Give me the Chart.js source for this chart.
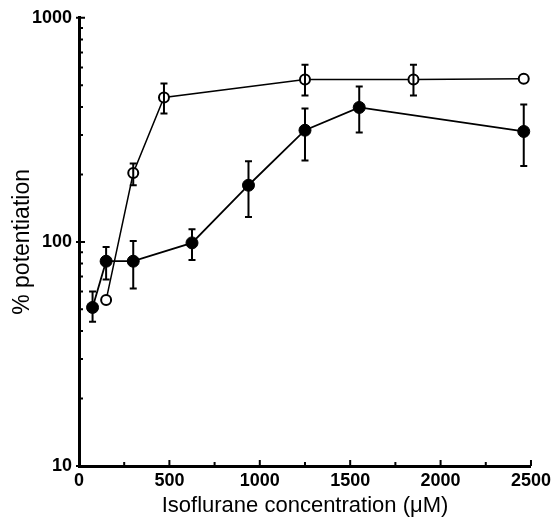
<!DOCTYPE html>
<html>
<head>
<meta charset="utf-8">
<script src="https://cdn.jsdelivr.net/npm/chart.js@4.4.0/dist/chart.umd.min.js"></script>
<style>
  html, body { margin: 0; padding: 0; background: #fff; }
  #wrap { width: 555px; height: 528px; }
</style>
</head>
<body>
<div id="wrap"><canvas id="graphe"></canvas></div>
<script>
// données
const concFilled = [75, 150, 300, 625, 937.5, 1250, 1550, 2460];
const potFilled  = [51, 82, 82, 99, 179, 315, 398, 311];
const errHiFilled = [60, 95, 101, 114, 229, 394, 494, 410];
const errLoFilled = [44, 68, 62, 83, 129, 231, 308, 218];

const concOpen = [150, 300, 470, 1250, 1850, 2460];
const potOpen  = [55, 203, 441, 530, 530, 535];
const errHiOpen = [null, 224, 509, 618, 618, null];
const errLoOpen = [null, 179, 374, 450, 450, null];

const xTicks = [0, 500, 1000, 1500, 2000, 2500];
const xMinorTicks = [250, 750, 1250, 1750, 2250];
const yTicks = [10, 100, 1000];
const yMinorTicks = [20, 30, 40, 50, 60, 70, 80, 90, 200, 300, 400, 500, 600, 700, 800, 900];

const fontFamily = 'Arial, "Liberation Sans", Helvetica, sans-serif';

// barres d'erreur
const errorBars = {
  id: 'errorBars',
  afterDatasetsDraw(chart) {
    const { ctx, scales: { x, y } } = chart;
    ctx.save();
    ctx.strokeStyle = '#000';
    ctx.lineWidth = 2;
    const draw = (xs, hi, lo) => {
      xs.forEach((v, i) => {
        if (hi[i] == null) return;
        const px = x.getPixelForValue(v);
        const y1 = y.getPixelForValue(hi[i]);
        const y2 = y.getPixelForValue(lo[i]);
        ctx.beginPath();
        ctx.moveTo(px, y1); ctx.lineTo(px, y2);
        ctx.moveTo(px - 3.5, y1); ctx.lineTo(px + 3.5, y1);
        ctx.moveTo(px - 3.5, y2); ctx.lineTo(px + 3.5, y2);
        ctx.stroke();
      });
    };
    draw(concFilled, errHiFilled, errLoFilled);
    draw(concOpen, errHiOpen, errLoOpen);
    ctx.restore();
  }
};

// graduations tournées vers l'intérieur
const innerTicks = {
  id: 'innerTicks',
  afterDraw(chart) {
    const { ctx, scales: { x, y } } = chart;
    ctx.save();
    ctx.strokeStyle = '#000';
    ctx.lineWidth = 2;
    ctx.beginPath();
    xTicks.forEach(v => { const px = x.getPixelForValue(v); ctx.moveTo(px, y.bottom); ctx.lineTo(px, y.bottom - 6); });
    xMinorTicks.forEach(v => { const px = x.getPixelForValue(v); ctx.moveTo(px, y.bottom); ctx.lineTo(px, y.bottom - 4); });
    yTicks.forEach(v => { const py = y.getPixelForValue(v); ctx.moveTo(x.left - 3, py); ctx.lineTo(x.left + 6, py); });
    yMinorTicks.forEach(v => { const py = y.getPixelForValue(v); ctx.moveTo(x.left, py); ctx.lineTo(x.left + 4, py); });
    ctx.stroke();
    ctx.restore();
  }
};

new Chart(document.getElementById('graphe').getContext('2d'), {
  type: 'line',
  data: {
    datasets: [
      {
        label: 'filled',
        data: concFilled.map((c, i) => ({ x: c, y: potFilled[i] })),
        borderColor: '#000',
        borderWidth: 1.8,
        pointRadius: 6,
        pointBackgroundColor: '#000',
        pointBorderColor: '#000',
        pointBorderWidth: 1,
        tension: 0
      },
      {
        label: 'open',
        data: concOpen.map((c, i) => ({ x: c, y: potOpen[i] })),
        borderColor: '#000',
        borderWidth: 1.5,
        pointRadius: 5,
        pointBackgroundColor: '#fff',
        pointBorderColor: '#000',
        pointBorderWidth: 2,
        tension: 0
      }
    ]
  },
  options: {
    responsive: true,
    maintainAspectRatio: false,
    animation: false,
    layout: { padding: { left: 0, top: 17, right: 20, bottom: 0 } },
    plugins: {
      legend: { display: false },
      tooltip: { enabled: false }
    },
    scales: {
      x: {
        type: 'linear',
        min: 0,
        max: 2500,
        grid: { display: false, drawTicks: false },
        border: { display: true, color: '#000', width: 3 },
        ticks: {
          stepSize: 500,
          color: '#000',
          padding: 4,
          font: { family: fontFamily, size: 18, weight: 'bold' },
          callback: v => String(v)
        },
        title: {
          display: true,
          text: 'Isoflurane concentration (μM)',
          color: '#000',
          padding: { top: 0, bottom: 9 },
          font: { family: fontFamily, size: 22 }
        },
        afterFit: s => { s.height = 62; }
      },
      y: {
        type: 'logarithmic',
        min: 10,
        max: 1000,
        grid: { display: false, drawTicks: false },
        border: { display: true, color: '#000', width: 3 },
        ticks: {
          autoSkip: false,
          color: '#000',
          padding: 7,
          font: { family: fontFamily, size: 18, weight: 'bold' },
          callback: v => yTicks.includes(v) ? String(v) : ''
        },
        title: {
          display: true,
          text: '% potentiation',
          color: '#000',
          padding: { top: 9, bottom: 0 },
          font: { family: fontFamily, size: 23 }
        },
        afterFit: s => { s.width = 79; }
      }
    }
  },
  plugins: [errorBars, innerTicks]
});
</script>
</body>
</html>
